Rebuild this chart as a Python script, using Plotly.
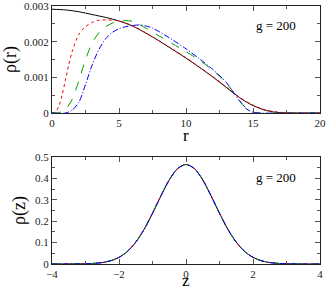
import plotly.graph_objects as go

# ---- top panel data: rho(r) ----
r_black = [0, 1, 2, 3, 4, 5, 6, 7, 8, 9, 10, 11, 12, 13, 13.5, 14, 14.5, 15, 15.5, 16, 16.5, 17, 18, 20]
rho_black = [0.00291, 0.00289, 0.00284, 0.00276, 0.00268, 0.00258, 0.00244, 0.00224, 0.00202, 0.00178,
             0.00154, 0.00128, 0.00101, 0.00072, 0.00057, 0.00043, 0.00031, 0.00021, 0.00013, 0.00007,
             0.00003, 0.00001, 0.0, 0.0]

r_red = [0, 0.25, 0.5, 0.75, 1, 1.25, 1.5, 2, 2.5, 3, 3.5, 4, 5, 6, 7, 8, 9, 10, 11, 12, 13, 14, 15, 16, 17, 18, 20]
rho_red = [0.0, 0.00003, 0.00018, 0.00050, 0.00092, 0.00135, 0.00172, 0.00220, 0.00242, 0.00254, 0.00260,
           0.00261, 0.00258, 0.00245, 0.00225, 0.00202, 0.00179, 0.00155, 0.00129, 0.00102, 0.00073,
           0.00044, 0.00022, 0.00008, 0.00002, 0.000005, 0.0]

r_green = [0, 0.5, 1, 1.5, 2, 2.5, 3, 3.5, 4, 4.5, 5, 5.5, 6, 7, 8, 9, 10, 11, 12, 13, 13.5, 14, 14.5, 15, 15.5, 20]
rho_green = [0.0, 0.00001, 0.00010, 0.00038, 0.00090, 0.00150, 0.00196, 0.00225, 0.00242, 0.00252, 0.00257,
             0.00259, 0.00257, 0.00238, 0.00216, 0.00194, 0.00172, 0.00148, 0.00120, 0.00085, 0.00060,
             0.00035, 0.00013, 0.00002, 0.0, 0.0]

r_blue = [0, 1, 1.5, 2, 2.5, 3, 3.5, 4, 4.5, 5, 5.5, 6, 6.5, 7, 7.5, 8, 9, 10, 11, 12, 13, 13.5, 14, 14.5, 15, 15.5, 20]
rho_blue = [0.0, 0.0, 0.00008, 0.00030, 0.00080, 0.00135, 0.00178, 0.00208, 0.00226, 0.00236, 0.00242,
            0.00245, 0.00247, 0.00244, 0.00238, 0.00228, 0.00205, 0.00180, 0.00152, 0.00122, 0.00086,
            0.00060, 0.00034, 0.00012, 0.00002, 0.0, 0.0]

# ---- bottom panel data: rho(z) ----
z_vals = [-4, -3.5, -3, -2.75, -2.5, -2.25, -2, -1.75, -1.5, -1.25, -1, -0.75, -0.5, -0.25, 0,
          0.25, 0.5, 0.75, 1, 1.25, 1.5, 1.75, 2, 2.25, 2.5, 2.75, 3, 3.5, 4]
rho_z = [0.0, 0.0001, 0.0011, 0.0028, 0.0068, 0.0152, 0.0311, 0.0586, 0.102, 0.162, 0.237, 0.318, 0.393,
         0.446, 0.465, 0.446, 0.393, 0.318, 0.237, 0.162, 0.102, 0.0586, 0.0311, 0.0152, 0.0068, 0.0028,
         0.0011, 0.0001, 0.0]

top_yticks = [0, 0.001, 0.002, 0.003]
top_yticktext = ["0", "0.001", "0.002", "0.003"]
bot_yticks = [0, 0.1, 0.2, 0.3, 0.4, 0.5]
bot_yticktext = ["0", "0.1", "0.2", "0.3", "0.4", "0.5"]
label_text = "g = 200"

FONT = "Liberation Serif"

styles = [
    ("black", "solid"),
    ("red", "dot"),
    ("#00a000", "dash"),
    ("blue", "6px,2px,1px,2px"),
]

fig = go.Figure()
top_series = [(r_black, rho_black), (r_red, rho_red), (r_green, rho_green), (r_blue, rho_blue)]
for (xs, ys), (col, dash) in zip(top_series, styles):
    fig.add_trace(go.Scatter(x=xs, y=ys, mode="lines", xaxis="x", yaxis="y",
                             line=dict(color=col, width=1, dash=dash, shape="spline", smoothing=0.8),
                             showlegend=False))
for col, dash in styles:
    fig.add_trace(go.Scatter(x=z_vals, y=rho_z, mode="lines", xaxis="x2", yaxis="y2",
                             line=dict(color=col, width=1, dash=dash, shape="spline", smoothing=0.8),
                             showlegend=False))

axis_common = dict(showline=True, linecolor="#222", linewidth=1.3, mirror="allticks",
                   ticks="inside", ticklen=5, tickwidth=1, tickcolor="#555",
                   showgrid=False, zeroline=False, automargin=False,
                   ticklabeloverflow="allow",
                   tickfont=dict(family=FONT, size=11, color="#222"))

H = 290
t, b = 6, 26
ph = H - t - b
top_dom = [(H - 113 - b) / ph, 1.0]
bot_dom = [0.0, (H - 157 - b) / ph]

def py(pix):
    return (H - b - pix) / ph

title_font = dict(family=FONT, size=17, color="black")

fig.update_layout(
    width=327, height=290,
    margin=dict(l=52, r=7, t=t, b=b),
    paper_bgcolor="white", plot_bgcolor="white",
    font=dict(family=FONT, color="black"),
    xaxis=dict(axis_common, domain=[0, 1], anchor="y", range=[0, 20], dtick=5,
               minor=dict(ticks="inside", ticklen=3, dtick=2.5, tickcolor="#555")),
    yaxis=dict(axis_common, domain=top_dom, anchor="x", range=[0, 0.003],
               tickvals=top_yticks, ticktext=top_yticktext,
               minor=dict(ticks="inside", ticklen=3, dtick=0.0005, tickcolor="#555"),
               title=dict(text="ρ(r)", font=dict(family=FONT, size=18, color="black"), standoff=4)),
    xaxis2=dict(axis_common, domain=[0, 1], anchor="y2", range=[-4, 4], dtick=2,
                minor=dict(ticks="inside", ticklen=3, dtick=1, tickcolor="#555")),
    yaxis2=dict(axis_common, domain=bot_dom, anchor="x2", range=[0, 0.5],
                tickvals=bot_yticks, ticktext=bot_yticktext,
                minor=dict(ticks="inside", ticklen=3, dtick=0.05, tickcolor="#555"),
                title=dict(text="ρ(z)", font=dict(family=FONT, size=18, color="black"), standoff=4)),
    annotations=[
        dict(text="r", xref="x domain", yref="paper", x=0.5, y=py(135), yanchor="middle",
             showarrow=False, font=title_font, borderpad=0),
        dict(text="z", xref="x2 domain", yref="paper", x=0.5, y=py(280), yanchor="middle",
             showarrow=False, font=title_font, borderpad=0),
        dict(text=label_text, xref="x", yref="y", x=16.75, y=0.00246, showarrow=False,
             font=dict(family=FONT, size=13, color="black")),
        dict(text=label_text, xref="x2", yref="y2", x=2.7, y=0.402, showarrow=False,
             font=dict(family=FONT, size=13, color="black")),
    ],
)

fig.write_html("out.html", config={"displayModeBar": False},
               post_script="document.body.style.margin='0';document.body.style.overflow='hidden';")
